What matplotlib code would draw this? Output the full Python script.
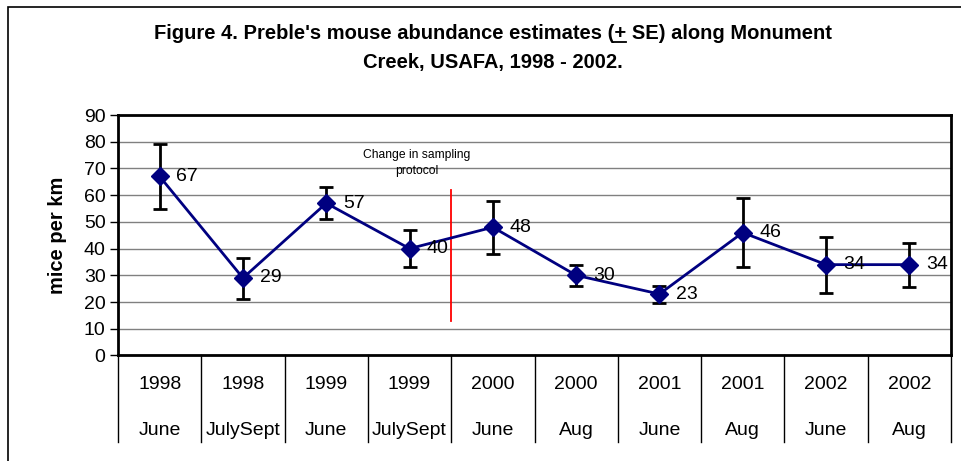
import matplotlib as mpl
mpl.use('Agg')
import matplotlib.pyplot as plt
from matplotlib.patches import Rectangle
from matplotlib.lines import Line2D

plt.rcParams['font.family'] = ['Liberation Sans', 'DejaVu Sans']

years = ['1998', '1998', '1999', '1999', '2000', '2000', '2001', '2001', '2002', '2002']
months = ['June', 'JulySept', 'June', 'JulySept', 'June', 'Aug', 'June', 'Aug', 'June', 'Aug']
abundance = [67, 29, 57, 40, 48, 30, 23, 46, 34, 34]
se_upper = [12, 7.6, 6, 7, 10, 4, 3, 13, 10.2, 8.2]
se_lower = [12, 8, 6, 7, 10, 4, 3.3, 13, 10.5, 8.5]

title_pre = "Figure 4. Preble's mouse abundance estimates ("
title_line1 = title_pre + "+ SE) along Monument"
title_line2 = "Creek, USAFA, 1998 - 2002."

fig = plt.figure(figsize=(9.61, 4.61), dpi=100)
ax = fig.add_axes([0.1228, 0.2289, 0.8668, 0.5216])

# outer chart frame
fig.patches.append(Rectangle((8 / 961, -0.1), 1.2, (461 - 7) / 461 + 0.1,
                             transform=fig.transFigure, fill=False,
                             edgecolor='black', linewidth=1.2))

x = list(range(len(abundance)))
ax.errorbar(x, abundance, yerr=[se_lower, se_upper], fmt='none',
            ecolor='black', elinewidth=2, capsize=4.7, capthick=2, zorder=3)
ax.plot(x, abundance, color='#000080', linewidth=2, marker='D',
        markersize=9, markerfacecolor='#000080', markeredgecolor='#000080', zorder=4)

for xi, v in zip(x, abundance):
    ax.annotate(str(v), (xi, v), xytext=(12, 0), textcoords='offset points',
                va='center', ha='left', fontsize=14, zorder=5)

# change in sampling protocol marker
ax.plot([3.5, 3.5], [13, 62], color='red', linewidth=1.3, zorder=2)
ax.text(3.09, 72, 'Change in sampling\nprotocol', ha='center', va='center',
        fontsize=8.7, linespacing=1.5)

ax.set_xlim(-0.5, 9.5)
ax.set_ylim(0, 90)
ax.set_yticks(range(0, 91, 10))
ax.yaxis.grid(True, color='#808080', linewidth=1)
ax.set_axisbelow(True)
ax.set_xticks([])
ax.tick_params(axis='y', direction='out', length=6, width=1, labelsize=14, pad=3)
for s in ax.spines.values():
    s.set_linewidth(2)

ax.set_ylabel('mice per km', fontsize=14.5, fontweight='bold', labelpad=12)

# category table under the axis
tr = ax.get_xaxis_transform()
for i in range(len(years) + 1):
    ax.plot([i - 0.5, i - 0.5], [0, -0.36], transform=tr, color='black',
            linewidth=1, clip_on=False)
for xi, yr, mo in zip(x, years, months):
    ax.text(xi, -0.12, yr, transform=tr, ha='center', va='center', fontsize=14)
    ax.text(xi, -0.31, mo, transform=tr, ha='center', va='center', fontsize=14)

# title, two lines, with the underlined "+"
tfont = dict(fontsize=14.5, fontweight='bold')
t1 = fig.text(0.513, 1 - 33 / 461, title_line1, ha='center', va='center', **tfont)
fig.text(0.513, 1 - 62 / 461, title_line2, ha='center', va='center', **tfont)

fig.canvas.draw()
r = fig.canvas.get_renderer()
bb = t1.get_window_extent(r)
probe = fig.text(0, 0, title_pre, **tfont)
w_pre = probe.get_window_extent(r).width
probe2 = fig.text(0, 0, title_pre + "+", **tfont)
w_plus = probe2.get_window_extent(r).width
probe.remove()
probe2.remove()
ux0 = (bb.x0 + w_pre) / fig.bbox.width
ux1 = (bb.x0 + w_plus) / fig.bbox.width
uy = (bb.y0 + 1) / fig.bbox.height
fig.lines.append(Line2D([ux0, ux1], [uy, uy], transform=fig.transFigure,
                        color='black', linewidth=1.3))

plt.savefig('out.png', dpi=100)
